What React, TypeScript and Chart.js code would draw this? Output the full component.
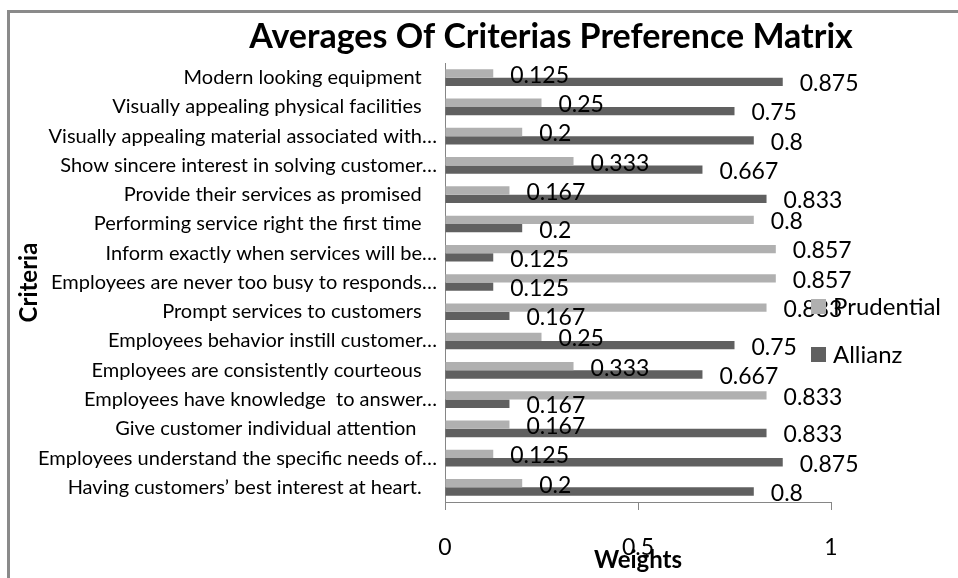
import React, { useEffect, useRef } from "react";
import { Chart, registerables } from "chart.js";

Chart.register(...registerables);

const chartTitle = "Averages Of Criterias Preference Matrix";
const categories = [
  "Modern looking equipment   ",
  "Visually appealing physical facilities   ",
  "Visually appealing material associated with…",
  "Show sincere interest in solving customer…",
  "Provide their services as promised   ",
  "Performing service right the first time   ",
  "Inform exactly when services will be…",
  "Employees are never too busy to responds…",
  "Prompt services to customers   ",
  "Employees behavior instill customer…",
  "Employees are consistently courteous   ",
  "Employees have knowledge  to answer…",
  "Give customer individual attention    ",
  "Employees understand the specific needs of…",
  "Having customers’ best interest at heart.   ",
];
const seriesNames = ["Prudential", "Allianz"];
const prudential = [0.125, 0.25, 0.2, 0.333, 0.167, 0.8, 0.857, 0.857, 0.833, 0.25, 0.333, 0.833, 0.167, 0.125, 0.2];
const allianz = [0.875, 0.75, 0.8, 0.667, 0.833, 0.2, 0.125, 0.125, 0.167, 0.75, 0.667, 0.167, 0.833, 0.875, 0.8];
const xMin = 0;
const xMax = 1;
const xStep = 0.5;
const xTitle = "Weights";
const yTitle = "Criteria";

const colors = ["#b0b0b0", "#606060"];
const FONT = "Lato, 'Open Sans', sans-serif";
const AXIS_COLOR = "#868686";

const decor = {
  id: "decor",
  afterDatasetsDraw(chart: any) {
    const ctx = chart.ctx;
    ctx.save();
    ctx.font = `23px ${FONT}`;
    ctx.fillStyle = "#000";
    ctx.textAlign = "left";
    ctx.textBaseline = "middle";
    chart.data.datasets.forEach((ds: any, i: number) => {
      const meta = chart.getDatasetMeta(i);
      meta.data.forEach((bar: any, j: number) => {
        ctx.fillText(String(ds.data[j]), bar.x + 17, bar.y + 2);
      });
    });
    ctx.restore();
  },
  afterDraw(chart: any) {
    const ctx = chart.ctx;
    const area = chart.chartArea;
    ctx.save();
    // outer frame
    ctx.strokeStyle = "#8a8a8a";
    ctx.lineWidth = 3;
    ctx.strokeRect(8.5, 11.5, 1200, 1200);
    // title
    ctx.font = `bold 34px ${FONT}`;
    ctx.fillStyle = "#000";
    ctx.textAlign = "center";
    ctx.textBaseline = "alphabetic";
    ctx.fillText(chartTitle, 551, 48);
    // legend
    const lx = area.right - 20;
    const ly0 = (area.top + area.bottom) / 2 + 24;
    ctx.font = `24px ${FONT}`;
    ctx.textAlign = "left";
    ctx.textBaseline = "middle";
    chart.data.datasets.forEach((ds: any, i: number) => {
      const cy = ly0 + i * 48;
      ctx.fillStyle = ds.backgroundColor;
      ctx.fillRect(lx, cy - 7.5, 15, 15);
      ctx.fillStyle = "#000";
      ctx.fillText(ds.label, lx + 22, cy + 1);
    });
    ctx.restore();
  },
};

export default function App() {
  const ref = useRef<HTMLCanvasElement | null>(null);
  useEffect(() => {
    if (!ref.current) return;
    const chart = new Chart(ref.current, {
      type: "bar",
      data: {
        labels: categories,
        datasets: [
          { label: seriesNames[0], data: prudential, backgroundColor: colors[0], categoryPercentage: 0.57, barPercentage: 1 },
          { label: seriesNames[1], data: allianz, backgroundColor: colors[1], categoryPercentage: 0.57, barPercentage: 1 },
        ],
      },
      options: {
        indexAxis: "y",
        animation: false,
        responsive: false,
        layout: { padding: { top: 63, right: 127, bottom: 0, left: 0 } },
        plugins: {
          legend: { display: false },
          title: { display: false },
          tooltip: { enabled: false },
        },
        scales: {
          x: {
            min: xMin,
            max: xMax,
            ticks: {
              stepSize: xStep,
              color: "#000",
              font: { family: FONT, size: 23 },
              padding: 24,
              callback: (v: any) => String(+v),
            },
            grid: { drawOnChartArea: false, drawTicks: true, tickLength: 8, color: AXIS_COLOR },
            border: { display: true, color: AXIS_COLOR, width: 1 },
            title: { display: true, text: xTitle, color: "#000", font: { family: FONT, size: 24, weight: "bold" }, padding: { top: 0, bottom: 3 } },
            afterFit: (s: any) => { s.height = 76; },
          },
          y: {
            ticks: { color: "#000", font: { family: FONT, size: 20 }, padding: 8, autoSkip: false },
            grid: { display: false, drawTicks: false },
            border: { display: true, color: AXIS_COLOR, width: 1 },
            title: { display: true, text: yTitle, color: "#000", font: { family: FONT, size: 24, weight: "bold" }, padding: { top: 15, bottom: 0 } },
            afterFit: (s: any) => { s.width = 445; },
          },
        },
      },
      plugins: [decor],
    });
    return () => chart.destroy();
  }, []);
  return (
    <div style={{ position: "absolute", left: 0, top: 0, width: 958, height: 578, background: "#fff" }}>
      <canvas ref={ref} width={958} height={578} style={{ display: "block" }} />
    </div>
  );
}
